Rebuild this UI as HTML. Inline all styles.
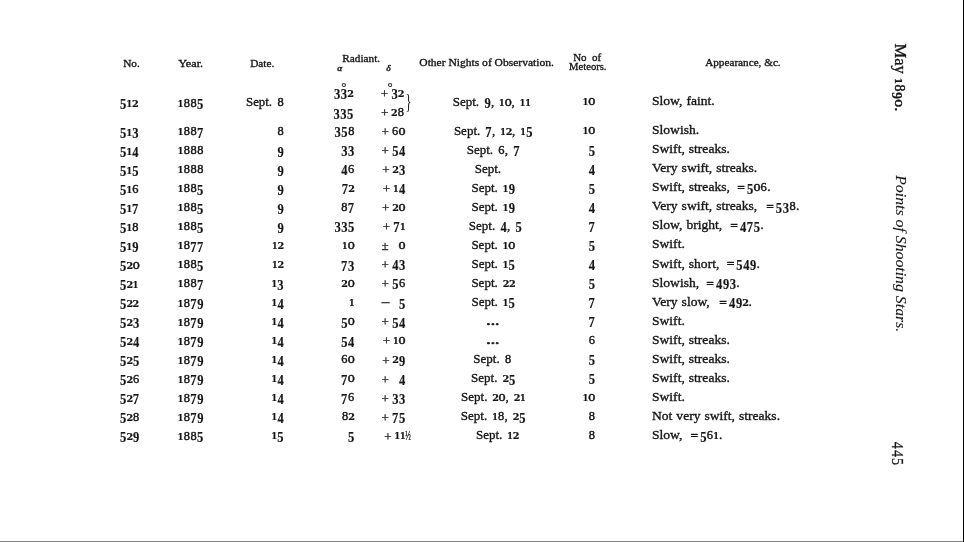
<!DOCTYPE html>
<html lang="en">
<head>
<meta charset="utf-8">
<title>Points of Shooting Stars — May 1890, p. 445</title>
<style>
html,body{margin:0;padding:0;background:#fff;}
body{width:964px;height:542px;overflow:hidden;position:relative;}
svg{will-change:transform;position:absolute;left:0;top:0;display:block;font-family:'Liberation Serif','DejaVu Serif',serif;fill:#161616;stroke:#161616;}
svg text{white-space:pre;}
.edge-r{position:absolute;left:963px;top:0;width:1px;height:542px;background:#000;}
.edge-b{position:absolute;left:0;top:541px;width:963px;height:1px;background:#828282;}
</style>
</head>
<body>
<svg width="964" height="542" viewBox="0 0 964 542">
<g><text transform="translate(119.99,109.20) scale(0.910,1)" font-size="13.80" stroke-width="0.15" font-weight="bold">5</text><text transform="translate(126.43,106.80) scale(0.900,1)" font-size="8.90" stroke-width="0.22" font-family="'DejaVu Serif','Liberation Serif',serif" font-weight="bold">1</text><text transform="translate(131.91,106.80) scale(1.070,1)" font-size="9.00" stroke-width="0.2" font-family="'DejaVu Serif','Liberation Serif',serif" font-weight="bold">2</text></g>
<g><text transform="translate(177.73,106.63) scale(0.900,1)" font-size="8.90" stroke-width="0.22" font-family="'DejaVu Serif','Liberation Serif',serif" font-weight="bold">1</text><text transform="translate(183.63,106.63) scale(1.000,1)" font-size="12.40" stroke-width="0.45">8</text><text transform="translate(190.38,106.63) scale(1.000,1)" font-size="12.40" stroke-width="0.45">8</text><text transform="translate(197.09,109.03) scale(0.910,1)" font-size="13.80" stroke-width="0.15" font-weight="bold">5</text></g>
<g><text transform="translate(246.01,106.31) scale(0.990,1)" font-size="13.00" stroke-width="0.35" word-spacing="1.82">Sept. </text><text transform="translate(277.43,106.31) scale(1.000,1)" font-size="12.40" stroke-width="0.45">8</text></g>
<g><text transform="translate(452.68,105.68) scale(1.000,1)" font-size="13.00" stroke-width="0.35" word-spacing="1.80">Sept. </text><text transform="translate(484.42,108.08) scale(0.910,1)" font-size="13.80" stroke-width="0.15" font-weight="bold">9</text><text transform="translate(490.92,105.68) scale(1.000,1)" font-size="13.00" stroke-width="0.35" word-spacing="1.80">, </text><text transform="translate(499.10,105.68) scale(0.900,1)" font-size="8.90" stroke-width="0.22" font-family="'DejaVu Serif','Liberation Serif',serif" font-weight="bold">1</text><text transform="translate(504.41,105.68) scale(1.360,1)" font-size="8.70" stroke-width="0.42" font-family="'DejaVu Serif','Liberation Serif',serif">0</text><text transform="translate(511.62,105.68) scale(1.000,1)" font-size="13.00" stroke-width="0.35" word-spacing="1.80">, </text><text transform="translate(519.80,105.68) scale(0.900,1)" font-size="8.90" stroke-width="0.22" font-family="'DejaVu Serif','Liberation Serif',serif" font-weight="bold">1</text><text transform="translate(525.30,105.68) scale(0.900,1)" font-size="8.90" stroke-width="0.22" font-family="'DejaVu Serif','Liberation Serif',serif" font-weight="bold">1</text></g>
<g><text transform="translate(582.68,105.37) scale(0.900,1)" font-size="8.90" stroke-width="0.22" font-family="'DejaVu Serif','Liberation Serif',serif" font-weight="bold">1</text><text transform="translate(587.99,105.37) scale(1.360,1)" font-size="8.70" stroke-width="0.42" font-family="'DejaVu Serif','Liberation Serif',serif">0</text></g>
<g><text transform="translate(652.00,105.20) scale(1.045,1)" font-size="13.00" stroke-width="0.35" word-spacing="0.57">Slow, faint.</text></g>
<g><text transform="translate(119.99,138.00) scale(0.910,1)" font-size="13.80" stroke-width="0.15" font-weight="bold">5</text><text transform="translate(126.43,135.60) scale(0.900,1)" font-size="8.90" stroke-width="0.22" font-family="'DejaVu Serif','Liberation Serif',serif" font-weight="bold">1</text><text transform="translate(132.30,138.00) scale(0.910,1)" font-size="13.80" stroke-width="0.15" font-weight="bold">3</text></g>
<g><text transform="translate(177.73,135.43) scale(0.900,1)" font-size="8.90" stroke-width="0.22" font-family="'DejaVu Serif','Liberation Serif',serif" font-weight="bold">1</text><text transform="translate(183.63,135.43) scale(1.000,1)" font-size="12.40" stroke-width="0.45">8</text><text transform="translate(190.38,135.43) scale(1.000,1)" font-size="12.40" stroke-width="0.45">8</text><text transform="translate(196.90,137.83) scale(0.910,1)" font-size="13.80" stroke-width="0.15" font-weight="bold">7</text></g>
<g><text transform="translate(277.43,135.13) scale(1.000,1)" font-size="12.40" stroke-width="0.45">8</text></g>
<g><text transform="translate(334.50,137.33) scale(0.910,1)" font-size="13.80" stroke-width="0.15" font-weight="bold">3</text><text transform="translate(341.29,137.33) scale(0.910,1)" font-size="13.80" stroke-width="0.15" font-weight="bold">5</text><text transform="translate(348.13,134.93) scale(1.000,1)" font-size="12.40" stroke-width="0.45">8</text></g>
<g><text transform="translate(381.50,136.08) scale(1.000,1)" font-size="13.00" stroke-width="0.3">+</text><text transform="translate(392.03,134.78) scale(0.930,1)" font-size="13.40" stroke-width="0.42">6</text><text transform="translate(398.29,134.78) scale(1.360,1)" font-size="8.70" stroke-width="0.42" font-family="'DejaVu Serif','Liberation Serif',serif">0</text></g>
<g><text transform="translate(453.88,134.53) scale(1.000,1)" font-size="13.00" stroke-width="0.35" word-spacing="1.80">Sept. </text><text transform="translate(485.37,136.93) scale(0.910,1)" font-size="13.80" stroke-width="0.15" font-weight="bold">7</text><text transform="translate(492.12,134.53) scale(1.000,1)" font-size="13.00" stroke-width="0.35" word-spacing="1.80">, </text><text transform="translate(500.30,134.53) scale(0.900,1)" font-size="8.90" stroke-width="0.22" font-family="'DejaVu Serif','Liberation Serif',serif" font-weight="bold">1</text><text transform="translate(505.78,134.53) scale(1.070,1)" font-size="9.00" stroke-width="0.2" font-family="'DejaVu Serif','Liberation Serif',serif" font-weight="bold">2</text><text transform="translate(512.12,134.53) scale(1.000,1)" font-size="13.00" stroke-width="0.35" word-spacing="1.80">, </text><text transform="translate(520.30,134.53) scale(0.900,1)" font-size="8.90" stroke-width="0.22" font-family="'DejaVu Serif','Liberation Serif',serif" font-weight="bold">1</text><text transform="translate(526.16,136.93) scale(0.910,1)" font-size="13.80" stroke-width="0.15" font-weight="bold">5</text></g>
<g><text transform="translate(582.68,134.24) scale(0.900,1)" font-size="8.90" stroke-width="0.22" font-family="'DejaVu Serif','Liberation Serif',serif" font-weight="bold">1</text><text transform="translate(587.99,134.24) scale(1.360,1)" font-size="8.70" stroke-width="0.42" font-family="'DejaVu Serif','Liberation Serif',serif">0</text></g>
<g><text transform="translate(652.00,134.07) scale(1.045,1)" font-size="13.00" stroke-width="0.35">Slowish.</text></g>
<g><text transform="translate(119.99,157.00) scale(0.910,1)" font-size="13.80" stroke-width="0.15" font-weight="bold">5</text><text transform="translate(126.43,154.60) scale(0.900,1)" font-size="8.90" stroke-width="0.22" font-family="'DejaVu Serif','Liberation Serif',serif" font-weight="bold">1</text><text transform="translate(132.34,157.00) scale(0.910,1)" font-size="13.80" stroke-width="0.15" font-weight="bold">4</text></g>
<g><text transform="translate(177.73,154.44) scale(0.900,1)" font-size="8.90" stroke-width="0.22" font-family="'DejaVu Serif','Liberation Serif',serif" font-weight="bold">1</text><text transform="translate(183.63,154.44) scale(1.000,1)" font-size="12.40" stroke-width="0.45">8</text><text transform="translate(190.38,154.44) scale(1.000,1)" font-size="12.40" stroke-width="0.45">8</text><text transform="translate(197.13,154.44) scale(1.000,1)" font-size="12.40" stroke-width="0.45">8</text></g>
<g><text transform="translate(277.40,156.55) scale(0.910,1)" font-size="13.80" stroke-width="0.15" font-weight="bold">9</text></g>
<g><text transform="translate(341.25,156.36) scale(0.910,1)" font-size="13.80" stroke-width="0.15" font-weight="bold">3</text><text transform="translate(348.05,156.36) scale(0.910,1)" font-size="13.80" stroke-width="0.15" font-weight="bold">3</text></g>
<g><text transform="translate(381.55,155.12) scale(1.000,1)" font-size="13.00" stroke-width="0.3">+</text><text transform="translate(392.14,156.22) scale(0.910,1)" font-size="13.80" stroke-width="0.15" font-weight="bold">5</text><text transform="translate(398.99,156.22) scale(0.910,1)" font-size="13.80" stroke-width="0.15" font-weight="bold">4</text></g>
<g><text transform="translate(466.66,153.58) scale(1.000,1)" font-size="13.00" stroke-width="0.35" word-spacing="1.80">Sept. </text><text transform="translate(498.27,153.58) scale(0.930,1)" font-size="13.40" stroke-width="0.42">6</text><text transform="translate(504.85,153.58) scale(1.000,1)" font-size="13.00" stroke-width="0.35" word-spacing="1.80">, </text><text transform="translate(513.20,155.98) scale(0.910,1)" font-size="13.80" stroke-width="0.15" font-weight="bold">7</text></g>
<g><text transform="translate(588.64,155.70) scale(0.910,1)" font-size="13.80" stroke-width="0.15" font-weight="bold">5</text></g>
<g><text transform="translate(652.00,153.14) scale(1.045,1)" font-size="13.00" stroke-width="0.35" word-spacing="0.57">Swift, streaks.</text></g>
<g><text transform="translate(119.99,176.00) scale(0.910,1)" font-size="13.80" stroke-width="0.15" font-weight="bold">5</text><text transform="translate(126.43,173.60) scale(0.900,1)" font-size="8.90" stroke-width="0.22" font-family="'DejaVu Serif','Liberation Serif',serif" font-weight="bold">1</text><text transform="translate(132.29,176.00) scale(0.910,1)" font-size="13.80" stroke-width="0.15" font-weight="bold">5</text></g>
<g><text transform="translate(177.73,173.45) scale(0.900,1)" font-size="8.90" stroke-width="0.22" font-family="'DejaVu Serif','Liberation Serif',serif" font-weight="bold">1</text><text transform="translate(183.63,173.45) scale(1.000,1)" font-size="12.40" stroke-width="0.45">8</text><text transform="translate(190.38,173.45) scale(1.000,1)" font-size="12.40" stroke-width="0.45">8</text><text transform="translate(197.13,173.45) scale(1.000,1)" font-size="12.40" stroke-width="0.45">8</text></g>
<g><text transform="translate(277.40,175.57) scale(0.910,1)" font-size="13.80" stroke-width="0.15" font-weight="bold">9</text></g>
<g><text transform="translate(341.34,175.39) scale(0.910,1)" font-size="13.80" stroke-width="0.15" font-weight="bold">4</text><text transform="translate(348.03,172.99) scale(0.930,1)" font-size="13.40" stroke-width="0.42">6</text></g>
<g><text transform="translate(382.15,174.15) scale(1.000,1)" font-size="13.00" stroke-width="0.3">+</text><text transform="translate(392.36,172.85) scale(1.070,1)" font-size="9.00" stroke-width="0.2" font-family="'DejaVu Serif','Liberation Serif',serif" font-weight="bold">2</text><text transform="translate(398.95,175.25) scale(0.910,1)" font-size="13.80" stroke-width="0.15" font-weight="bold">3</text></g>
<g><text transform="translate(474.71,172.64) scale(1.000,1)" font-size="13.00" stroke-width="0.35">Sept.</text></g>
<g><text transform="translate(588.69,174.76) scale(0.910,1)" font-size="13.80" stroke-width="0.15" font-weight="bold">4</text></g>
<g><text transform="translate(652.00,172.21) scale(1.045,1)" font-size="13.00" stroke-width="0.35" word-spacing="0.57">Very swift, streaks.</text></g>
<g><text transform="translate(119.99,195.00) scale(0.910,1)" font-size="13.80" stroke-width="0.15" font-weight="bold">5</text><text transform="translate(126.43,192.60) scale(0.900,1)" font-size="8.90" stroke-width="0.22" font-family="'DejaVu Serif','Liberation Serif',serif" font-weight="bold">1</text><text transform="translate(132.23,192.60) scale(0.930,1)" font-size="13.40" stroke-width="0.42">6</text></g>
<g><text transform="translate(177.73,192.46) scale(0.900,1)" font-size="8.90" stroke-width="0.22" font-family="'DejaVu Serif','Liberation Serif',serif" font-weight="bold">1</text><text transform="translate(183.63,192.46) scale(1.000,1)" font-size="12.40" stroke-width="0.45">8</text><text transform="translate(190.38,192.46) scale(1.000,1)" font-size="12.40" stroke-width="0.45">8</text><text transform="translate(197.09,194.86) scale(0.910,1)" font-size="13.80" stroke-width="0.15" font-weight="bold">5</text></g>
<g><text transform="translate(277.40,194.59) scale(0.910,1)" font-size="13.80" stroke-width="0.15" font-weight="bold">9</text></g>
<g><text transform="translate(341.65,194.42) scale(0.910,1)" font-size="13.80" stroke-width="0.15" font-weight="bold">7</text><text transform="translate(348.26,192.02) scale(1.070,1)" font-size="9.00" stroke-width="0.2" font-family="'DejaVu Serif','Liberation Serif',serif" font-weight="bold">2</text></g>
<g><text transform="translate(382.85,193.19) scale(1.000,1)" font-size="13.00" stroke-width="0.3">+</text><text transform="translate(393.08,191.89) scale(0.900,1)" font-size="8.90" stroke-width="0.22" font-family="'DejaVu Serif','Liberation Serif',serif" font-weight="bold">1</text><text transform="translate(398.99,194.29) scale(0.910,1)" font-size="13.80" stroke-width="0.15" font-weight="bold">4</text></g>
<g><text transform="translate(471.43,191.67) scale(1.000,1)" font-size="13.00" stroke-width="0.35" word-spacing="1.80">Sept. </text><text transform="translate(502.75,191.67) scale(0.900,1)" font-size="8.90" stroke-width="0.22" font-family="'DejaVu Serif','Liberation Serif',serif" font-weight="bold">1</text><text transform="translate(508.67,194.07) scale(0.910,1)" font-size="13.80" stroke-width="0.15" font-weight="bold">9</text></g>
<g><text transform="translate(588.64,193.82) scale(0.910,1)" font-size="13.80" stroke-width="0.15" font-weight="bold">5</text></g>
<g><text transform="translate(652.00,191.28) scale(1.045,1)" font-size="13.00" stroke-width="0.35" word-spacing="0.57">Swift, streaks, </text><text transform="translate(737.22,192.18) scale(1.000,1)" font-size="13.50" stroke-width="0.55">=</text><text transform="translate(746.94,193.68) scale(0.910,1)" font-size="13.80" stroke-width="0.15" font-weight="bold">5</text><text transform="translate(753.19,191.28) scale(1.360,1)" font-size="8.70" stroke-width="0.42" font-family="'DejaVu Serif','Liberation Serif',serif">0</text><text transform="translate(760.58,191.28) scale(0.930,1)" font-size="13.40" stroke-width="0.42">6</text><text transform="translate(767.15,191.28) scale(1.045,1)" font-size="13.00" stroke-width="0.35">.</text></g>
<g><text transform="translate(119.99,214.00) scale(0.910,1)" font-size="13.80" stroke-width="0.15" font-weight="bold">5</text><text transform="translate(126.43,211.60) scale(0.900,1)" font-size="8.90" stroke-width="0.22" font-family="'DejaVu Serif','Liberation Serif',serif" font-weight="bold">1</text><text transform="translate(132.10,214.00) scale(0.910,1)" font-size="13.80" stroke-width="0.15" font-weight="bold">7</text></g>
<g><text transform="translate(177.73,211.46) scale(0.900,1)" font-size="8.90" stroke-width="0.22" font-family="'DejaVu Serif','Liberation Serif',serif" font-weight="bold">1</text><text transform="translate(183.63,211.46) scale(1.000,1)" font-size="12.40" stroke-width="0.45">8</text><text transform="translate(190.38,211.46) scale(1.000,1)" font-size="12.40" stroke-width="0.45">8</text><text transform="translate(197.09,213.86) scale(0.910,1)" font-size="13.80" stroke-width="0.15" font-weight="bold">5</text></g>
<g><text transform="translate(277.40,213.61) scale(0.910,1)" font-size="13.80" stroke-width="0.15" font-weight="bold">9</text></g>
<g><text transform="translate(341.33,211.05) scale(1.000,1)" font-size="12.40" stroke-width="0.45">8</text><text transform="translate(347.85,213.45) scale(0.910,1)" font-size="13.80" stroke-width="0.15" font-weight="bold">7</text></g>
<g><text transform="translate(382.05,212.23) scale(1.000,1)" font-size="13.00" stroke-width="0.3">+</text><text transform="translate(392.26,210.93) scale(1.070,1)" font-size="9.00" stroke-width="0.2" font-family="'DejaVu Serif','Liberation Serif',serif" font-weight="bold">2</text><text transform="translate(398.29,210.93) scale(1.360,1)" font-size="8.70" stroke-width="0.42" font-family="'DejaVu Serif','Liberation Serif',serif">0</text></g>
<g><text transform="translate(471.43,210.72) scale(1.000,1)" font-size="13.00" stroke-width="0.35" word-spacing="1.80">Sept. </text><text transform="translate(502.75,210.72) scale(0.900,1)" font-size="8.90" stroke-width="0.22" font-family="'DejaVu Serif','Liberation Serif',serif" font-weight="bold">1</text><text transform="translate(508.67,213.12) scale(0.910,1)" font-size="13.80" stroke-width="0.15" font-weight="bold">9</text></g>
<g><text transform="translate(588.69,212.88) scale(0.910,1)" font-size="13.80" stroke-width="0.15" font-weight="bold">4</text></g>
<g><text transform="translate(652.00,210.35) scale(1.045,1)" font-size="13.00" stroke-width="0.35" word-spacing="0.57">Very swift, streaks, </text><text transform="translate(766.13,211.25) scale(1.000,1)" font-size="13.50" stroke-width="0.55">=</text><text transform="translate(775.84,212.75) scale(0.910,1)" font-size="13.80" stroke-width="0.15" font-weight="bold">5</text><text transform="translate(782.65,212.75) scale(0.910,1)" font-size="13.80" stroke-width="0.15" font-weight="bold">3</text><text transform="translate(789.48,210.35) scale(1.000,1)" font-size="12.40" stroke-width="0.45">8</text><text transform="translate(795.95,210.35) scale(1.045,1)" font-size="13.00" stroke-width="0.35">.</text></g>
<g><text transform="translate(119.99,233.00) scale(0.910,1)" font-size="13.80" stroke-width="0.15" font-weight="bold">5</text><text transform="translate(126.43,230.60) scale(0.900,1)" font-size="8.90" stroke-width="0.22" font-family="'DejaVu Serif','Liberation Serif',serif" font-weight="bold">1</text><text transform="translate(132.33,230.60) scale(1.000,1)" font-size="12.40" stroke-width="0.45">8</text></g>
<g><text transform="translate(177.73,230.47) scale(0.900,1)" font-size="8.90" stroke-width="0.22" font-family="'DejaVu Serif','Liberation Serif',serif" font-weight="bold">1</text><text transform="translate(183.63,230.47) scale(1.000,1)" font-size="12.40" stroke-width="0.45">8</text><text transform="translate(190.38,230.47) scale(1.000,1)" font-size="12.40" stroke-width="0.45">8</text><text transform="translate(197.09,232.87) scale(0.910,1)" font-size="13.80" stroke-width="0.15" font-weight="bold">5</text></g>
<g><text transform="translate(277.40,232.64) scale(0.910,1)" font-size="13.80" stroke-width="0.15" font-weight="bold">9</text></g>
<g><text transform="translate(334.45,232.48) scale(0.910,1)" font-size="13.80" stroke-width="0.15" font-weight="bold">3</text><text transform="translate(341.25,232.48) scale(0.910,1)" font-size="13.80" stroke-width="0.15" font-weight="bold">3</text><text transform="translate(348.04,232.48) scale(0.910,1)" font-size="13.80" stroke-width="0.15" font-weight="bold">5</text></g>
<g><text transform="translate(382.85,231.27) scale(1.000,1)" font-size="13.00" stroke-width="0.3">+</text><text transform="translate(393.25,232.37) scale(0.910,1)" font-size="13.80" stroke-width="0.15" font-weight="bold">7</text><text transform="translate(399.88,229.97) scale(0.900,1)" font-size="8.90" stroke-width="0.22" font-family="'DejaVu Serif','Liberation Serif',serif" font-weight="bold">1</text></g>
<g><text transform="translate(468.83,229.77) scale(1.000,1)" font-size="13.00" stroke-width="0.35" word-spacing="1.80">Sept. </text><text transform="translate(500.56,232.17) scale(0.910,1)" font-size="13.80" stroke-width="0.15" font-weight="bold">4</text><text transform="translate(507.07,229.77) scale(1.000,1)" font-size="13.00" stroke-width="0.35" word-spacing="1.80">, </text><text transform="translate(515.61,232.17) scale(0.910,1)" font-size="13.80" stroke-width="0.15" font-weight="bold">5</text></g>
<g><text transform="translate(588.45,231.94) scale(0.910,1)" font-size="13.80" stroke-width="0.15" font-weight="bold">7</text></g>
<g><text transform="translate(652.00,229.42) scale(1.045,1)" font-size="13.00" stroke-width="0.35" word-spacing="0.57">Slow, bright, </text><text transform="translate(730.35,230.32) scale(1.000,1)" font-size="13.50" stroke-width="0.55">=</text><text transform="translate(740.11,231.82) scale(0.910,1)" font-size="13.80" stroke-width="0.15" font-weight="bold">4</text><text transform="translate(746.68,231.82) scale(0.910,1)" font-size="13.80" stroke-width="0.15" font-weight="bold">7</text><text transform="translate(753.67,231.82) scale(0.910,1)" font-size="13.80" stroke-width="0.15" font-weight="bold">5</text><text transform="translate(760.22,229.42) scale(1.045,1)" font-size="13.00" stroke-width="0.35">.</text></g>
<g><text transform="translate(119.99,252.00) scale(0.910,1)" font-size="13.80" stroke-width="0.15" font-weight="bold">5</text><text transform="translate(126.43,249.60) scale(0.900,1)" font-size="8.90" stroke-width="0.22" font-family="'DejaVu Serif','Liberation Serif',serif" font-weight="bold">1</text><text transform="translate(132.35,252.00) scale(0.910,1)" font-size="13.80" stroke-width="0.15" font-weight="bold">9</text></g>
<g><text transform="translate(177.73,249.48) scale(0.900,1)" font-size="8.90" stroke-width="0.22" font-family="'DejaVu Serif','Liberation Serif',serif" font-weight="bold">1</text><text transform="translate(183.63,249.48) scale(1.000,1)" font-size="12.40" stroke-width="0.45">8</text><text transform="translate(190.15,251.88) scale(0.910,1)" font-size="13.80" stroke-width="0.15" font-weight="bold">7</text><text transform="translate(196.95,251.88) scale(0.910,1)" font-size="13.80" stroke-width="0.15" font-weight="bold">7</text></g>
<g><text transform="translate(272.08,249.26) scale(0.900,1)" font-size="8.90" stroke-width="0.22" font-family="'DejaVu Serif','Liberation Serif',serif" font-weight="bold">1</text><text transform="translate(277.56,249.26) scale(1.070,1)" font-size="9.00" stroke-width="0.2" font-family="'DejaVu Serif','Liberation Serif',serif" font-weight="bold">2</text></g>
<g><text transform="translate(342.08,249.11) scale(0.900,1)" font-size="8.90" stroke-width="0.22" font-family="'DejaVu Serif','Liberation Serif',serif" font-weight="bold">1</text><text transform="translate(347.39,249.11) scale(1.360,1)" font-size="8.70" stroke-width="0.42" font-family="'DejaVu Serif','Liberation Serif',serif">0</text></g>
<g><text transform="translate(381.45,250.30) scale(1.000,1)" font-size="13.00" stroke-width="0.3">±</text><text transform="translate(398.29,249.00) scale(1.360,1)" font-size="8.70" stroke-width="0.42" font-family="'DejaVu Serif','Liberation Serif',serif">0</text></g>
<g><text transform="translate(471.38,248.82) scale(1.000,1)" font-size="13.00" stroke-width="0.35" word-spacing="1.80">Sept. </text><text transform="translate(502.70,248.82) scale(0.900,1)" font-size="8.90" stroke-width="0.22" font-family="'DejaVu Serif','Liberation Serif',serif" font-weight="bold">1</text><text transform="translate(508.01,248.82) scale(1.360,1)" font-size="8.70" stroke-width="0.42" font-family="'DejaVu Serif','Liberation Serif',serif">0</text></g>
<g><text transform="translate(588.64,251.00) scale(0.910,1)" font-size="13.80" stroke-width="0.15" font-weight="bold">5</text></g>
<g><text transform="translate(652.00,248.49) scale(1.045,1)" font-size="13.00" stroke-width="0.35">Swift.</text></g>
<g><text transform="translate(119.99,271.00) scale(0.910,1)" font-size="13.80" stroke-width="0.15" font-weight="bold">5</text><text transform="translate(126.41,268.60) scale(1.070,1)" font-size="9.00" stroke-width="0.2" font-family="'DejaVu Serif','Liberation Serif',serif" font-weight="bold">2</text><text transform="translate(132.44,268.60) scale(1.360,1)" font-size="8.70" stroke-width="0.42" font-family="'DejaVu Serif','Liberation Serif',serif">0</text></g>
<g><text transform="translate(177.73,268.49) scale(0.900,1)" font-size="8.90" stroke-width="0.22" font-family="'DejaVu Serif','Liberation Serif',serif" font-weight="bold">1</text><text transform="translate(183.63,268.49) scale(1.000,1)" font-size="12.40" stroke-width="0.45">8</text><text transform="translate(190.38,268.49) scale(1.000,1)" font-size="12.40" stroke-width="0.45">8</text><text transform="translate(197.09,270.89) scale(0.910,1)" font-size="13.80" stroke-width="0.15" font-weight="bold">5</text></g>
<g><text transform="translate(272.08,268.28) scale(0.900,1)" font-size="8.90" stroke-width="0.22" font-family="'DejaVu Serif','Liberation Serif',serif" font-weight="bold">1</text><text transform="translate(277.56,268.28) scale(1.070,1)" font-size="9.00" stroke-width="0.2" font-family="'DejaVu Serif','Liberation Serif',serif" font-weight="bold">2</text></g>
<g><text transform="translate(341.05,270.54) scale(0.910,1)" font-size="13.80" stroke-width="0.15" font-weight="bold">7</text><text transform="translate(348.05,270.54) scale(0.910,1)" font-size="13.80" stroke-width="0.15" font-weight="bold">3</text></g>
<g><text transform="translate(381.55,269.34) scale(1.000,1)" font-size="13.00" stroke-width="0.3">+</text><text transform="translate(392.19,270.44) scale(0.910,1)" font-size="13.80" stroke-width="0.15" font-weight="bold">4</text><text transform="translate(398.95,270.44) scale(0.910,1)" font-size="13.80" stroke-width="0.15" font-weight="bold">3</text></g>
<g><text transform="translate(471.43,267.87) scale(1.000,1)" font-size="13.00" stroke-width="0.35" word-spacing="1.80">Sept. </text><text transform="translate(502.75,267.87) scale(0.900,1)" font-size="8.90" stroke-width="0.22" font-family="'DejaVu Serif','Liberation Serif',serif" font-weight="bold">1</text><text transform="translate(508.61,270.27) scale(0.910,1)" font-size="13.80" stroke-width="0.15" font-weight="bold">5</text></g>
<g><text transform="translate(588.69,270.07) scale(0.910,1)" font-size="13.80" stroke-width="0.15" font-weight="bold">4</text></g>
<g><text transform="translate(652.00,267.55) scale(1.045,1)" font-size="13.00" stroke-width="0.35" word-spacing="0.57">Swift, short, </text><text transform="translate(726.63,268.45) scale(1.000,1)" font-size="13.50" stroke-width="0.55">=</text><text transform="translate(736.34,269.95) scale(0.910,1)" font-size="13.80" stroke-width="0.15" font-weight="bold">5</text><text transform="translate(743.19,269.95) scale(0.910,1)" font-size="13.80" stroke-width="0.15" font-weight="bold">4</text><text transform="translate(750.00,269.95) scale(0.910,1)" font-size="13.80" stroke-width="0.15" font-weight="bold">9</text><text transform="translate(756.50,267.55) scale(1.045,1)" font-size="13.00" stroke-width="0.35">.</text></g>
<g><text transform="translate(119.99,290.00) scale(0.910,1)" font-size="13.80" stroke-width="0.15" font-weight="bold">5</text><text transform="translate(126.41,287.60) scale(1.070,1)" font-size="9.00" stroke-width="0.2" font-family="'DejaVu Serif','Liberation Serif',serif" font-weight="bold">2</text><text transform="translate(132.63,287.60) scale(0.900,1)" font-size="8.90" stroke-width="0.22" font-family="'DejaVu Serif','Liberation Serif',serif" font-weight="bold">1</text></g>
<g><text transform="translate(177.73,287.49) scale(0.900,1)" font-size="8.90" stroke-width="0.22" font-family="'DejaVu Serif','Liberation Serif',serif" font-weight="bold">1</text><text transform="translate(183.63,287.49) scale(1.000,1)" font-size="12.40" stroke-width="0.45">8</text><text transform="translate(190.38,287.49) scale(1.000,1)" font-size="12.40" stroke-width="0.45">8</text><text transform="translate(196.90,289.89) scale(0.910,1)" font-size="13.80" stroke-width="0.15" font-weight="bold">7</text></g>
<g><text transform="translate(271.48,287.30) scale(0.900,1)" font-size="8.90" stroke-width="0.22" font-family="'DejaVu Serif','Liberation Serif',serif" font-weight="bold">1</text><text transform="translate(277.35,289.70) scale(0.910,1)" font-size="13.80" stroke-width="0.15" font-weight="bold">3</text></g>
<g><text transform="translate(341.36,287.17) scale(1.070,1)" font-size="9.00" stroke-width="0.2" font-family="'DejaVu Serif','Liberation Serif',serif" font-weight="bold">2</text><text transform="translate(347.39,287.17) scale(1.360,1)" font-size="8.70" stroke-width="0.42" font-family="'DejaVu Serif','Liberation Serif',serif">0</text></g>
<g><text transform="translate(381.60,288.38) scale(1.000,1)" font-size="13.00" stroke-width="0.3">+</text><text transform="translate(392.19,289.48) scale(0.910,1)" font-size="13.80" stroke-width="0.15" font-weight="bold">5</text><text transform="translate(398.93,287.08) scale(0.930,1)" font-size="13.40" stroke-width="0.42">6</text></g>
<g><text transform="translate(471.38,286.91) scale(1.000,1)" font-size="13.00" stroke-width="0.35" word-spacing="1.80">Sept. </text><text transform="translate(502.68,286.91) scale(1.070,1)" font-size="9.00" stroke-width="0.2" font-family="'DejaVu Serif','Liberation Serif',serif" font-weight="bold">2</text><text transform="translate(508.88,286.91) scale(1.070,1)" font-size="9.00" stroke-width="0.2" font-family="'DejaVu Serif','Liberation Serif',serif" font-weight="bold">2</text></g>
<g><text transform="translate(588.64,289.13) scale(0.910,1)" font-size="13.80" stroke-width="0.15" font-weight="bold">5</text></g>
<g><text transform="translate(652.00,286.62) scale(1.045,1)" font-size="13.00" stroke-width="0.35" word-spacing="0.57">Slowish, </text><text transform="translate(706.33,287.52) scale(1.000,1)" font-size="13.50" stroke-width="0.55">=</text><text transform="translate(716.09,289.02) scale(0.910,1)" font-size="13.80" stroke-width="0.15" font-weight="bold">4</text><text transform="translate(722.90,289.02) scale(0.910,1)" font-size="13.80" stroke-width="0.15" font-weight="bold">9</text><text transform="translate(729.65,289.02) scale(0.910,1)" font-size="13.80" stroke-width="0.15" font-weight="bold">3</text><text transform="translate(736.20,286.62) scale(1.045,1)" font-size="13.00" stroke-width="0.35">.</text></g>
<g><text transform="translate(119.99,309.00) scale(0.910,1)" font-size="13.80" stroke-width="0.15" font-weight="bold">5</text><text transform="translate(126.41,306.60) scale(1.070,1)" font-size="9.00" stroke-width="0.2" font-family="'DejaVu Serif','Liberation Serif',serif" font-weight="bold">2</text><text transform="translate(132.61,306.60) scale(1.070,1)" font-size="9.00" stroke-width="0.2" font-family="'DejaVu Serif','Liberation Serif',serif" font-weight="bold">2</text></g>
<g><text transform="translate(177.73,306.50) scale(0.900,1)" font-size="8.90" stroke-width="0.22" font-family="'DejaVu Serif','Liberation Serif',serif" font-weight="bold">1</text><text transform="translate(183.63,306.50) scale(1.000,1)" font-size="12.40" stroke-width="0.45">8</text><text transform="translate(190.15,308.90) scale(0.910,1)" font-size="13.80" stroke-width="0.15" font-weight="bold">7</text><text transform="translate(197.20,308.90) scale(0.910,1)" font-size="13.80" stroke-width="0.15" font-weight="bold">9</text></g>
<g><text transform="translate(271.48,306.32) scale(0.900,1)" font-size="8.90" stroke-width="0.22" font-family="'DejaVu Serif','Liberation Serif',serif" font-weight="bold">1</text><text transform="translate(277.39,308.72) scale(0.910,1)" font-size="13.80" stroke-width="0.15" font-weight="bold">4</text></g>
<g><text transform="translate(348.98,306.20) scale(0.900,1)" font-size="8.90" stroke-width="0.22" font-family="'DejaVu Serif','Liberation Serif',serif" font-weight="bold">1</text></g>
<g><text transform="translate(380.45,307.41) scale(1.300,1)" font-size="13.00" stroke-width="0.3">−</text><text transform="translate(398.94,308.51) scale(0.910,1)" font-size="13.80" stroke-width="0.15" font-weight="bold">5</text></g>
<g><text transform="translate(471.43,305.96) scale(1.000,1)" font-size="13.00" stroke-width="0.35" word-spacing="1.80">Sept. </text><text transform="translate(502.75,305.96) scale(0.900,1)" font-size="8.90" stroke-width="0.22" font-family="'DejaVu Serif','Liberation Serif',serif" font-weight="bold">1</text><text transform="translate(508.61,308.36) scale(0.910,1)" font-size="13.80" stroke-width="0.15" font-weight="bold">5</text></g>
<g><text transform="translate(588.45,308.19) scale(0.910,1)" font-size="13.80" stroke-width="0.15" font-weight="bold">7</text></g>
<g><text transform="translate(652.00,305.69) scale(1.045,1)" font-size="13.00" stroke-width="0.35" word-spacing="0.57">Very slow, </text><text transform="translate(719.32,306.59) scale(1.000,1)" font-size="13.50" stroke-width="0.55">=</text><text transform="translate(729.08,308.09) scale(0.910,1)" font-size="13.80" stroke-width="0.15" font-weight="bold">4</text><text transform="translate(735.90,308.09) scale(0.910,1)" font-size="13.80" stroke-width="0.15" font-weight="bold">9</text><text transform="translate(742.26,305.69) scale(1.070,1)" font-size="9.00" stroke-width="0.2" font-family="'DejaVu Serif','Liberation Serif',serif" font-weight="bold">2</text><text transform="translate(748.60,305.69) scale(1.045,1)" font-size="13.00" stroke-width="0.35">.</text></g>
<g><text transform="translate(119.99,328.00) scale(0.910,1)" font-size="13.80" stroke-width="0.15" font-weight="bold">5</text><text transform="translate(126.41,325.60) scale(1.070,1)" font-size="9.00" stroke-width="0.2" font-family="'DejaVu Serif','Liberation Serif',serif" font-weight="bold">2</text><text transform="translate(133.00,328.00) scale(0.910,1)" font-size="13.80" stroke-width="0.15" font-weight="bold">3</text></g>
<g><text transform="translate(177.73,325.51) scale(0.900,1)" font-size="8.90" stroke-width="0.22" font-family="'DejaVu Serif','Liberation Serif',serif" font-weight="bold">1</text><text transform="translate(183.63,325.51) scale(1.000,1)" font-size="12.40" stroke-width="0.45">8</text><text transform="translate(190.15,327.91) scale(0.910,1)" font-size="13.80" stroke-width="0.15" font-weight="bold">7</text><text transform="translate(197.20,327.91) scale(0.910,1)" font-size="13.80" stroke-width="0.15" font-weight="bold">9</text></g>
<g><text transform="translate(271.48,325.34) scale(0.900,1)" font-size="8.90" stroke-width="0.22" font-family="'DejaVu Serif','Liberation Serif',serif" font-weight="bold">1</text><text transform="translate(277.39,327.74) scale(0.910,1)" font-size="13.80" stroke-width="0.15" font-weight="bold">4</text></g>
<g><text transform="translate(341.14,327.63) scale(0.910,1)" font-size="13.80" stroke-width="0.15" font-weight="bold">5</text><text transform="translate(347.39,325.23) scale(1.360,1)" font-size="8.70" stroke-width="0.42" font-family="'DejaVu Serif','Liberation Serif',serif">0</text></g>
<g><text transform="translate(381.55,326.45) scale(1.000,1)" font-size="13.00" stroke-width="0.3">+</text><text transform="translate(392.14,327.55) scale(0.910,1)" font-size="13.80" stroke-width="0.15" font-weight="bold">5</text><text transform="translate(398.99,327.55) scale(0.910,1)" font-size="13.80" stroke-width="0.15" font-weight="bold">4</text></g>
<text transform="translate(492.90,325.01) scale(1.25,1)" font-size="14" text-anchor="middle" stroke-width="0.7">...</text>
<g><text transform="translate(588.45,327.25) scale(0.910,1)" font-size="13.80" stroke-width="0.15" font-weight="bold">7</text></g>
<g><text transform="translate(652.00,324.76) scale(1.045,1)" font-size="13.00" stroke-width="0.35">Swift.</text></g>
<g><text transform="translate(119.99,347.00) scale(0.910,1)" font-size="13.80" stroke-width="0.15" font-weight="bold">5</text><text transform="translate(126.41,344.60) scale(1.070,1)" font-size="9.00" stroke-width="0.2" font-family="'DejaVu Serif','Liberation Serif',serif" font-weight="bold">2</text><text transform="translate(133.04,347.00) scale(0.910,1)" font-size="13.80" stroke-width="0.15" font-weight="bold">4</text></g>
<g><text transform="translate(177.73,344.52) scale(0.900,1)" font-size="8.90" stroke-width="0.22" font-family="'DejaVu Serif','Liberation Serif',serif" font-weight="bold">1</text><text transform="translate(183.63,344.52) scale(1.000,1)" font-size="12.40" stroke-width="0.45">8</text><text transform="translate(190.15,346.92) scale(0.910,1)" font-size="13.80" stroke-width="0.15" font-weight="bold">7</text><text transform="translate(197.20,346.92) scale(0.910,1)" font-size="13.80" stroke-width="0.15" font-weight="bold">9</text></g>
<g><text transform="translate(271.48,344.36) scale(0.900,1)" font-size="8.90" stroke-width="0.22" font-family="'DejaVu Serif','Liberation Serif',serif" font-weight="bold">1</text><text transform="translate(277.39,346.76) scale(0.910,1)" font-size="13.80" stroke-width="0.15" font-weight="bold">4</text></g>
<g><text transform="translate(341.24,346.66) scale(0.910,1)" font-size="13.80" stroke-width="0.15" font-weight="bold">5</text><text transform="translate(348.09,346.66) scale(0.910,1)" font-size="13.80" stroke-width="0.15" font-weight="bold">4</text></g>
<g><text transform="translate(382.75,345.49) scale(1.000,1)" font-size="13.00" stroke-width="0.3">+</text><text transform="translate(392.98,344.19) scale(0.900,1)" font-size="8.90" stroke-width="0.22" font-family="'DejaVu Serif','Liberation Serif',serif" font-weight="bold">1</text><text transform="translate(398.29,344.19) scale(1.360,1)" font-size="8.70" stroke-width="0.42" font-family="'DejaVu Serif','Liberation Serif',serif">0</text></g>
<text transform="translate(492.90,344.06) scale(1.25,1)" font-size="14" text-anchor="middle" stroke-width="0.7">...</text>
<g><text transform="translate(588.63,343.91) scale(0.930,1)" font-size="13.40" stroke-width="0.42">6</text></g>
<g><text transform="translate(652.00,343.83) scale(1.045,1)" font-size="13.00" stroke-width="0.35" word-spacing="0.57">Swift, streaks.</text></g>
<g><text transform="translate(119.99,366.00) scale(0.910,1)" font-size="13.80" stroke-width="0.15" font-weight="bold">5</text><text transform="translate(126.41,363.60) scale(1.070,1)" font-size="9.00" stroke-width="0.2" font-family="'DejaVu Serif','Liberation Serif',serif" font-weight="bold">2</text><text transform="translate(132.99,366.00) scale(0.910,1)" font-size="13.80" stroke-width="0.15" font-weight="bold">5</text></g>
<g><text transform="translate(177.73,363.52) scale(0.900,1)" font-size="8.90" stroke-width="0.22" font-family="'DejaVu Serif','Liberation Serif',serif" font-weight="bold">1</text><text transform="translate(183.63,363.52) scale(1.000,1)" font-size="12.40" stroke-width="0.45">8</text><text transform="translate(190.15,365.92) scale(0.910,1)" font-size="13.80" stroke-width="0.15" font-weight="bold">7</text><text transform="translate(197.20,365.92) scale(0.910,1)" font-size="13.80" stroke-width="0.15" font-weight="bold">9</text></g>
<g><text transform="translate(271.48,363.38) scale(0.900,1)" font-size="8.90" stroke-width="0.22" font-family="'DejaVu Serif','Liberation Serif',serif" font-weight="bold">1</text><text transform="translate(277.39,365.78) scale(0.910,1)" font-size="13.80" stroke-width="0.15" font-weight="bold">4</text></g>
<g><text transform="translate(341.13,363.29) scale(0.930,1)" font-size="13.40" stroke-width="0.42">6</text><text transform="translate(347.39,363.29) scale(1.360,1)" font-size="8.70" stroke-width="0.42" font-family="'DejaVu Serif','Liberation Serif',serif">0</text></g>
<g><text transform="translate(382.15,364.52) scale(1.000,1)" font-size="13.00" stroke-width="0.3">+</text><text transform="translate(392.36,363.22) scale(1.070,1)" font-size="9.00" stroke-width="0.2" font-family="'DejaVu Serif','Liberation Serif',serif" font-weight="bold">2</text><text transform="translate(399.00,365.62) scale(0.910,1)" font-size="13.80" stroke-width="0.15" font-weight="bold">9</text></g>
<g><text transform="translate(473.31,363.11) scale(1.000,1)" font-size="13.00" stroke-width="0.35" word-spacing="1.80">Sept. </text><text transform="translate(505.03,363.11) scale(1.000,1)" font-size="12.40" stroke-width="0.45">8</text></g>
<g><text transform="translate(588.64,365.37) scale(0.910,1)" font-size="13.80" stroke-width="0.15" font-weight="bold">5</text></g>
<g><text transform="translate(652.00,362.90) scale(1.045,1)" font-size="13.00" stroke-width="0.35" word-spacing="0.57">Swift, streaks.</text></g>
<g><text transform="translate(119.99,385.00) scale(0.910,1)" font-size="13.80" stroke-width="0.15" font-weight="bold">5</text><text transform="translate(126.41,382.60) scale(1.070,1)" font-size="9.00" stroke-width="0.2" font-family="'DejaVu Serif','Liberation Serif',serif" font-weight="bold">2</text><text transform="translate(132.93,382.60) scale(0.930,1)" font-size="13.40" stroke-width="0.42">6</text></g>
<g><text transform="translate(177.73,382.53) scale(0.900,1)" font-size="8.90" stroke-width="0.22" font-family="'DejaVu Serif','Liberation Serif',serif" font-weight="bold">1</text><text transform="translate(183.63,382.53) scale(1.000,1)" font-size="12.40" stroke-width="0.45">8</text><text transform="translate(190.15,384.93) scale(0.910,1)" font-size="13.80" stroke-width="0.15" font-weight="bold">7</text><text transform="translate(197.20,384.93) scale(0.910,1)" font-size="13.80" stroke-width="0.15" font-weight="bold">9</text></g>
<g><text transform="translate(271.48,382.41) scale(0.900,1)" font-size="8.90" stroke-width="0.22" font-family="'DejaVu Serif','Liberation Serif',serif" font-weight="bold">1</text><text transform="translate(277.39,384.81) scale(0.910,1)" font-size="13.80" stroke-width="0.15" font-weight="bold">4</text></g>
<g><text transform="translate(340.95,384.72) scale(0.910,1)" font-size="13.80" stroke-width="0.15" font-weight="bold">7</text><text transform="translate(347.39,382.32) scale(1.360,1)" font-size="8.70" stroke-width="0.42" font-family="'DejaVu Serif','Liberation Serif',serif">0</text></g>
<g><text transform="translate(381.55,383.56) scale(1.000,1)" font-size="13.00" stroke-width="0.3">+</text><text transform="translate(398.99,384.66) scale(0.910,1)" font-size="13.80" stroke-width="0.15" font-weight="bold">4</text></g>
<g><text transform="translate(471.08,382.16) scale(1.000,1)" font-size="13.00" stroke-width="0.35" word-spacing="1.80">Sept. </text><text transform="translate(502.38,382.16) scale(1.070,1)" font-size="9.00" stroke-width="0.2" font-family="'DejaVu Serif','Liberation Serif',serif" font-weight="bold">2</text><text transform="translate(508.96,384.56) scale(0.910,1)" font-size="13.80" stroke-width="0.15" font-weight="bold">5</text></g>
<g><text transform="translate(588.64,384.44) scale(0.910,1)" font-size="13.80" stroke-width="0.15" font-weight="bold">5</text></g>
<g><text transform="translate(652.00,381.97) scale(1.045,1)" font-size="13.00" stroke-width="0.35" word-spacing="0.57">Swift, streaks.</text></g>
<g><text transform="translate(119.99,404.00) scale(0.910,1)" font-size="13.80" stroke-width="0.15" font-weight="bold">5</text><text transform="translate(126.41,401.60) scale(1.070,1)" font-size="9.00" stroke-width="0.2" font-family="'DejaVu Serif','Liberation Serif',serif" font-weight="bold">2</text><text transform="translate(132.80,404.00) scale(0.910,1)" font-size="13.80" stroke-width="0.15" font-weight="bold">7</text></g>
<g><text transform="translate(177.73,401.54) scale(0.900,1)" font-size="8.90" stroke-width="0.22" font-family="'DejaVu Serif','Liberation Serif',serif" font-weight="bold">1</text><text transform="translate(183.63,401.54) scale(1.000,1)" font-size="12.40" stroke-width="0.45">8</text><text transform="translate(190.15,403.94) scale(0.910,1)" font-size="13.80" stroke-width="0.15" font-weight="bold">7</text><text transform="translate(197.20,403.94) scale(0.910,1)" font-size="13.80" stroke-width="0.15" font-weight="bold">9</text></g>
<g><text transform="translate(271.48,401.43) scale(0.900,1)" font-size="8.90" stroke-width="0.22" font-family="'DejaVu Serif','Liberation Serif',serif" font-weight="bold">1</text><text transform="translate(277.39,403.83) scale(0.910,1)" font-size="13.80" stroke-width="0.15" font-weight="bold">4</text></g>
<g><text transform="translate(341.10,403.75) scale(0.910,1)" font-size="13.80" stroke-width="0.15" font-weight="bold">7</text><text transform="translate(348.03,401.35) scale(0.930,1)" font-size="13.40" stroke-width="0.42">6</text></g>
<g><text transform="translate(381.55,402.60) scale(1.000,1)" font-size="13.00" stroke-width="0.3">+</text><text transform="translate(392.15,403.70) scale(0.910,1)" font-size="13.80" stroke-width="0.15" font-weight="bold">3</text><text transform="translate(398.95,403.70) scale(0.910,1)" font-size="13.80" stroke-width="0.15" font-weight="bold">3</text></g>
<g><text transform="translate(461.03,401.20) scale(1.000,1)" font-size="13.00" stroke-width="0.35" word-spacing="1.80">Sept. </text><text transform="translate(492.33,401.20) scale(1.070,1)" font-size="9.00" stroke-width="0.2" font-family="'DejaVu Serif','Liberation Serif',serif" font-weight="bold">2</text><text transform="translate(498.36,401.20) scale(1.360,1)" font-size="8.70" stroke-width="0.42" font-family="'DejaVu Serif','Liberation Serif',serif">0</text><text transform="translate(505.57,401.20) scale(1.000,1)" font-size="13.00" stroke-width="0.35" word-spacing="1.80">, </text><text transform="translate(513.73,401.20) scale(1.070,1)" font-size="9.00" stroke-width="0.2" font-family="'DejaVu Serif','Liberation Serif',serif" font-weight="bold">2</text><text transform="translate(519.95,401.20) scale(0.900,1)" font-size="8.90" stroke-width="0.22" font-family="'DejaVu Serif','Liberation Serif',serif" font-weight="bold">1</text></g>
<g><text transform="translate(582.68,401.10) scale(0.900,1)" font-size="8.90" stroke-width="0.22" font-family="'DejaVu Serif','Liberation Serif',serif" font-weight="bold">1</text><text transform="translate(587.99,401.10) scale(1.360,1)" font-size="8.70" stroke-width="0.42" font-family="'DejaVu Serif','Liberation Serif',serif">0</text></g>
<g><text transform="translate(652.00,401.04) scale(1.045,1)" font-size="13.00" stroke-width="0.35">Swift.</text></g>
<g><text transform="translate(119.99,423.00) scale(0.910,1)" font-size="13.80" stroke-width="0.15" font-weight="bold">5</text><text transform="translate(126.41,420.60) scale(1.070,1)" font-size="9.00" stroke-width="0.2" font-family="'DejaVu Serif','Liberation Serif',serif" font-weight="bold">2</text><text transform="translate(133.03,420.60) scale(1.000,1)" font-size="12.40" stroke-width="0.45">8</text></g>
<g><text transform="translate(177.73,420.55) scale(0.900,1)" font-size="8.90" stroke-width="0.22" font-family="'DejaVu Serif','Liberation Serif',serif" font-weight="bold">1</text><text transform="translate(183.63,420.55) scale(1.000,1)" font-size="12.40" stroke-width="0.45">8</text><text transform="translate(190.15,422.95) scale(0.910,1)" font-size="13.80" stroke-width="0.15" font-weight="bold">7</text><text transform="translate(197.20,422.95) scale(0.910,1)" font-size="13.80" stroke-width="0.15" font-weight="bold">9</text></g>
<g><text transform="translate(271.48,420.45) scale(0.900,1)" font-size="8.90" stroke-width="0.22" font-family="'DejaVu Serif','Liberation Serif',serif" font-weight="bold">1</text><text transform="translate(277.39,422.85) scale(0.910,1)" font-size="13.80" stroke-width="0.15" font-weight="bold">4</text></g>
<g><text transform="translate(341.93,420.38) scale(1.000,1)" font-size="12.40" stroke-width="0.45">8</text><text transform="translate(348.26,420.38) scale(1.070,1)" font-size="9.00" stroke-width="0.2" font-family="'DejaVu Serif','Liberation Serif',serif" font-weight="bold">2</text></g>
<g><text transform="translate(381.55,421.63) scale(1.000,1)" font-size="13.00" stroke-width="0.3">+</text><text transform="translate(391.95,422.73) scale(0.910,1)" font-size="13.80" stroke-width="0.15" font-weight="bold">7</text><text transform="translate(398.94,422.73) scale(0.910,1)" font-size="13.80" stroke-width="0.15" font-weight="bold">5</text></g>
<g><text transform="translate(460.81,420.25) scale(1.000,1)" font-size="13.00" stroke-width="0.35" word-spacing="1.80">Sept. </text><text transform="translate(492.13,420.25) scale(0.900,1)" font-size="8.90" stroke-width="0.22" font-family="'DejaVu Serif','Liberation Serif',serif" font-weight="bold">1</text><text transform="translate(498.03,420.25) scale(1.000,1)" font-size="12.40" stroke-width="0.45">8</text><text transform="translate(504.50,420.25) scale(1.000,1)" font-size="13.00" stroke-width="0.35" word-spacing="1.80">, </text><text transform="translate(512.65,420.25) scale(1.070,1)" font-size="9.00" stroke-width="0.2" font-family="'DejaVu Serif','Liberation Serif',serif" font-weight="bold">2</text><text transform="translate(519.24,422.65) scale(0.910,1)" font-size="13.80" stroke-width="0.15" font-weight="bold">5</text></g>
<g><text transform="translate(588.73,420.16) scale(1.000,1)" font-size="12.40" stroke-width="0.45">8</text></g>
<g><text transform="translate(652.00,420.11) scale(1.045,1)" font-size="13.00" stroke-width="0.35" word-spacing="0.57">Not very swift, streaks.</text></g>
<g><text transform="translate(119.99,442.00) scale(0.910,1)" font-size="13.80" stroke-width="0.15" font-weight="bold">5</text><text transform="translate(126.41,439.60) scale(1.070,1)" font-size="9.00" stroke-width="0.2" font-family="'DejaVu Serif','Liberation Serif',serif" font-weight="bold">2</text><text transform="translate(133.05,442.00) scale(0.910,1)" font-size="13.80" stroke-width="0.15" font-weight="bold">9</text></g>
<g><text transform="translate(177.73,439.55) scale(0.900,1)" font-size="8.90" stroke-width="0.22" font-family="'DejaVu Serif','Liberation Serif',serif" font-weight="bold">1</text><text transform="translate(183.63,439.55) scale(1.000,1)" font-size="12.40" stroke-width="0.45">8</text><text transform="translate(190.38,439.55) scale(1.000,1)" font-size="12.40" stroke-width="0.45">8</text><text transform="translate(197.09,441.95) scale(0.910,1)" font-size="13.80" stroke-width="0.15" font-weight="bold">5</text></g>
<g><text transform="translate(271.48,439.47) scale(0.900,1)" font-size="8.90" stroke-width="0.22" font-family="'DejaVu Serif','Liberation Serif',serif" font-weight="bold">1</text><text transform="translate(277.34,441.87) scale(0.910,1)" font-size="13.80" stroke-width="0.15" font-weight="bold">5</text></g>
<g><text transform="translate(348.04,441.81) scale(0.910,1)" font-size="13.80" stroke-width="0.15" font-weight="bold">5</text></g>
<g><text transform="translate(384.15,440.67) scale(1.000,1)" font-size="13.00" stroke-width="0.3">+</text><text transform="translate(394.38,439.37) scale(0.900,1)" font-size="8.90" stroke-width="0.22" font-family="'DejaVu Serif','Liberation Serif',serif" font-weight="bold">1</text><text transform="translate(399.88,439.37) scale(0.900,1)" font-size="8.90" stroke-width="0.22" font-family="'DejaVu Serif','Liberation Serif',serif" font-weight="bold">1</text><text transform="translate(405.20,440.17) scale(0.620,1)" font-size="12.00" stroke-width="0.3">½</text></g>
<g><text transform="translate(475.93,439.30) scale(1.000,1)" font-size="13.00" stroke-width="0.35" word-spacing="1.80">Sept. </text><text transform="translate(507.25,439.30) scale(0.900,1)" font-size="8.90" stroke-width="0.22" font-family="'DejaVu Serif','Liberation Serif',serif" font-weight="bold">1</text><text transform="translate(512.73,439.30) scale(1.070,1)" font-size="9.00" stroke-width="0.2" font-family="'DejaVu Serif','Liberation Serif',serif" font-weight="bold">2</text></g>
<g><text transform="translate(588.73,439.22) scale(1.000,1)" font-size="12.40" stroke-width="0.45">8</text></g>
<g><text transform="translate(652.00,439.17) scale(1.045,1)" font-size="13.00" stroke-width="0.35" word-spacing="0.57">Slow, </text><text transform="translate(690.42,440.07) scale(1.000,1)" font-size="13.50" stroke-width="0.55">=</text><text transform="translate(700.14,441.57) scale(0.910,1)" font-size="13.80" stroke-width="0.15" font-weight="bold">5</text><text transform="translate(706.87,439.17) scale(0.930,1)" font-size="13.40" stroke-width="0.42">6</text><text transform="translate(713.33,439.17) scale(0.900,1)" font-size="8.90" stroke-width="0.22" font-family="'DejaVu Serif','Liberation Serif',serif" font-weight="bold">1</text><text transform="translate(718.95,439.17) scale(1.045,1)" font-size="13.00" stroke-width="0.35">.</text></g>
<g><text transform="translate(334.05,99.30) scale(0.910,1)" font-size="13.80" stroke-width="0.15" font-weight="bold">3</text><text transform="translate(340.85,99.30) scale(0.910,1)" font-size="13.80" stroke-width="0.15" font-weight="bold">3</text><text transform="translate(347.26,96.90) scale(1.070,1)" font-size="9.00" stroke-width="0.2" font-family="'DejaVu Serif','Liberation Serif',serif" font-weight="bold">2</text></g>
<g><text transform="translate(333.45,118.60) scale(0.910,1)" font-size="13.80" stroke-width="0.15" font-weight="bold">3</text><text transform="translate(340.25,118.60) scale(0.910,1)" font-size="13.80" stroke-width="0.15" font-weight="bold">3</text><text transform="translate(347.04,118.60) scale(0.910,1)" font-size="13.80" stroke-width="0.15" font-weight="bold">5</text></g>
<g><text transform="translate(380.85,97.95) scale(1.000,1)" font-size="13.00" stroke-width="0.3">+</text><text transform="translate(391.45,99.05) scale(0.910,1)" font-size="13.80" stroke-width="0.15" font-weight="bold">3</text><text transform="translate(397.86,96.65) scale(1.070,1)" font-size="9.00" stroke-width="0.2" font-family="'DejaVu Serif','Liberation Serif',serif" font-weight="bold">2</text></g>
<g><text transform="translate(380.90,117.25) scale(1.000,1)" font-size="13.00" stroke-width="0.3">+</text><text transform="translate(391.11,115.95) scale(1.070,1)" font-size="9.00" stroke-width="0.2" font-family="'DejaVu Serif','Liberation Serif',serif" font-weight="bold">2</text><text transform="translate(397.73,115.95) scale(1.000,1)" font-size="12.40" stroke-width="0.45">8</text></g>
<text transform="translate(343.90,90.90) scale(1.0,1)" font-size="13" text-anchor="middle" stroke-width="0.15">°</text>
<text transform="translate(390.10,90.90) scale(1.0,1)" font-size="13" text-anchor="middle" stroke-width="0.15">°</text>
<text transform="translate(405.40,108.30) scale(0.6,1)" font-size="21" text-anchor="start" stroke-width="0">}</text>
<text transform="translate(123.20,66.60) scale(1.2,1)" font-size="9.4" text-anchor="start" stroke-width="0.3">No.</text>
<text transform="translate(178.20,66.60) scale(1.3,1)" font-size="9.4" text-anchor="start" stroke-width="0.3">Year.</text>
<text transform="translate(250.20,66.60) scale(1.2,1)" font-size="9.4" text-anchor="start" stroke-width="0.3">Date.</text>
<text transform="translate(342.30,61.60) scale(1.2,1)" font-size="9.4" text-anchor="start" stroke-width="0.3">Radiant.</text>
<text transform="translate(337.20,71.00) scale(1.15,1)" font-size="8.2" text-anchor="start" stroke-width="0.4" font-style="italic">α</text>
<text transform="translate(386.20,71.00) scale(1.15,1)" font-size="8.2" text-anchor="start" stroke-width="0.4" font-style="italic">δ</text>
<text transform="translate(419.30,65.90) scale(1.23,1)" font-size="9.4" text-anchor="start" stroke-width="0.3">Other Nights of Observation.</text>
<text transform="translate(587.20,60.80) scale(1.17,1)" font-size="9.4" text-anchor="middle" stroke-width="0.3">No  of</text>
<text transform="translate(587.80,70.00) scale(1.13,1)" font-size="9.4" text-anchor="middle" stroke-width="0.3">Meteors.</text>
<text transform="translate(705.20,65.90) scale(1.19,1)" font-size="9.4" text-anchor="start" stroke-width="0.3">Appearance, &amp;c.</text>
<g transform="translate(895,43.6) rotate(90)">
<g><text transform="translate(0.00,0.00) scale(1.030,1)" font-size="16.00" stroke-width="0.35">May </text><text transform="translate(34.23,0.00) scale(0.900,1)" font-size="10.03" stroke-width="0.22" font-family="'DejaVu Serif','Liberation Serif',serif" font-weight="bold">1</text><text transform="translate(40.87,0.00) scale(1.000,1)" font-size="13.97" stroke-width="0.45">8</text><text transform="translate(48.50,2.70) scale(0.910,1)" font-size="15.55" stroke-width="0.15" font-weight="bold">9</text><text transform="translate(55.48,0.00) scale(1.360,1)" font-size="9.80" stroke-width="0.42" font-family="'DejaVu Serif','Liberation Serif',serif">0</text><text transform="translate(63.60,0.00) scale(1.030,1)" font-size="16.00" stroke-width="0.35">.</text></g>
</g>
<g transform="translate(895.5,175.2) rotate(90) scale(1.02,1)"><text font-size="15.5" font-style="italic" stroke-width="0.12">Points of Shooting Stars.</text></g>
<g transform="translate(892.1,441.8) rotate(90) scale(0.86,1)"><text font-size="16.4" stroke-width="0.25" letter-spacing="1.25">445</text></g>
</svg>
<div class="edge-r"></div><div class="edge-b"></div>
</body>
</html>
